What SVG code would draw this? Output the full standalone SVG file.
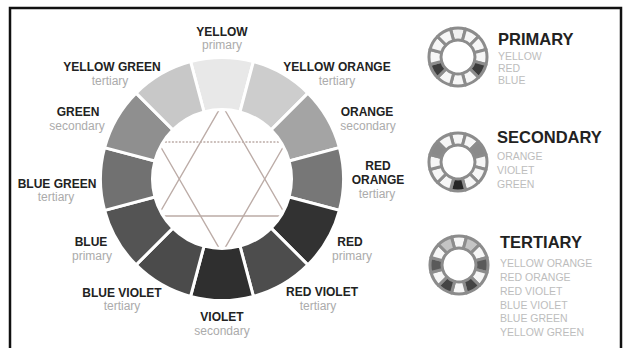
<svg xmlns="http://www.w3.org/2000/svg" xmlns:xlink="http://www.w3.org/1999/xlink" width="626" height="348" viewBox="0 0 626 348">
<style>
.seg{stroke:#ffffff;stroke-width:3}
.lbl{font-family:"Liberation Sans",Arial,sans-serif;font-weight:bold;font-size:12px;fill:#222;text-anchor:middle}
.sub{font-family:"Liberation Sans",Arial,sans-serif;font-size:12px;fill:#ababab;text-anchor:middle}
.ttl{font-family:"Liberation Sans",Arial,sans-serif;font-weight:bold;font-size:16.5px;fill:#222}
.itm{font-family:"Liberation Sans",Arial,sans-serif;font-size:10.5px;fill:#bdbdbd}
.hex{fill:none;stroke:#bcaca7;stroke-width:1.4}
.cell{stroke:#8c8c8c;stroke-width:3;stroke-linejoin:round}
</style>
<defs>
<path id="c0" d="M-7.51,-28.01 A29,29 0 0 1 7.51,-28.01 L4.4,-16.42 A17,17 0 0 0 -4.4,-16.42 Z"/>
<path id="c1" d="M7.51,-28.01 A29,29 0 0 1 20.51,-20.51 L12.02,-12.02 A17,17 0 0 0 4.4,-16.42 Z"/>
<path id="c2" d="M20.51,-20.51 A29,29 0 0 1 28.01,-7.51 L16.42,-4.4 A17,17 0 0 0 12.02,-12.02 Z"/>
<path id="c3" d="M28.01,-7.51 A29,29 0 0 1 28.01,7.51 L16.42,4.4 A17,17 0 0 0 16.42,-4.4 Z"/>
<path id="c4" d="M28.01,7.51 A29,29 0 0 1 20.51,20.51 L12.02,12.02 A17,17 0 0 0 16.42,4.4 Z"/>
<path id="c5" d="M20.51,20.51 A29,29 0 0 1 7.51,28.01 L4.4,16.42 A17,17 0 0 0 12.02,12.02 Z"/>
<path id="c6" d="M7.51,28.01 A29,29 0 0 1 -7.51,28.01 L-4.4,16.42 A17,17 0 0 0 4.4,16.42 Z"/>
<path id="c7" d="M-7.51,28.01 A29,29 0 0 1 -20.51,20.51 L-12.02,12.02 A17,17 0 0 0 -4.4,16.42 Z"/>
<path id="c8" d="M-20.51,20.51 A29,29 0 0 1 -28.01,7.51 L-16.42,4.4 A17,17 0 0 0 -12.02,12.02 Z"/>
<path id="c9" d="M-28.01,7.51 A29,29 0 0 1 -28.01,-7.51 L-16.42,-4.4 A17,17 0 0 0 -16.42,4.4 Z"/>
<path id="c10" d="M-28.01,-7.51 A29,29 0 0 1 -20.51,-20.51 L-12.02,-12.02 A17,17 0 0 0 -16.42,-4.4 Z"/>
<path id="c11" d="M-20.51,-20.51 A29,29 0 0 1 -7.51,-28.01 L-4.4,-16.42 A17,17 0 0 0 -12.02,-12.02 Z"/>
</defs>
<rect width="626" height="348" fill="#ffffff"/>
<rect x="10" y="8" width="611" height="360" fill="none" stroke="#111" stroke-width="2.5"/>

<g id="hexagram">
<polygon class="hex" points="222,105 286.1,216 157.9,216"/>
<polyline class="hex" points="157.9,142 222,253 286.1,142"/>
<line class="hex" x1="157.9" y1="142" x2="286.1" y2="142" stroke-dasharray="2 1.5"/>
</g>

<g id="wheel">
<path id="seg-yellow" class="seg" fill="#e8e8e8" d="M190.6,61.6 A121.5,121.5 0 0 1 253.4,61.6 L240,111.9 A69.5,69.5 0 0 0 204,111.9 Z"/>
<path id="seg-yellow-orange" class="seg" fill="#cdcdcd" d="M253.4,61.6 A121.5,121.5 0 0 1 307.9,93.1 L271.1,129.9 A69.5,69.5 0 0 0 240,111.9 Z"/>
<path id="seg-orange" class="seg" fill="#a4a4a4" d="M307.9,93.1 A121.5,121.5 0 0 1 339.4,147.6 L289.1,161 A69.5,69.5 0 0 0 271.1,129.9 Z"/>
<path id="seg-red-orange" class="seg" fill="#777777" d="M339.4,147.6 A121.5,121.5 0 0 1 339.4,210.4 L289.1,197 A69.5,69.5 0 0 0 289.1,161 Z"/>
<path id="seg-red" class="seg" fill="#323232" d="M339.4,210.4 A121.5,121.5 0 0 1 307.9,264.9 L271.1,228.1 A69.5,69.5 0 0 0 289.1,197 Z"/>
<path id="seg-red-violet" class="seg" fill="#4d4d4d" d="M307.9,264.9 A121.5,121.5 0 0 1 253.4,296.4 L240,246.1 A69.5,69.5 0 0 0 271.1,228.1 Z"/>
<path id="seg-violet" class="seg" fill="#2f2f2f" d="M253.4,296.4 A121.5,121.5 0 0 1 190.6,296.4 L204,246.1 A69.5,69.5 0 0 0 240,246.1 Z"/>
<path id="seg-blue-violet" class="seg" fill="#4b4b4b" d="M190.6,296.4 A121.5,121.5 0 0 1 136.1,264.9 L172.9,228.1 A69.5,69.5 0 0 0 204,246.1 Z"/>
<path id="seg-blue" class="seg" fill="#545454" d="M136.1,264.9 A121.5,121.5 0 0 1 104.6,210.4 L154.9,197 A69.5,69.5 0 0 0 172.9,228.1 Z"/>
<path id="seg-blue-green" class="seg" fill="#717171" d="M104.6,210.4 A121.5,121.5 0 0 1 104.6,147.6 L154.9,161 A69.5,69.5 0 0 0 154.9,197 Z"/>
<path id="seg-green" class="seg" fill="#8f8f8f" d="M104.6,147.6 A121.5,121.5 0 0 1 136.1,93.1 L172.9,129.9 A69.5,69.5 0 0 0 154.9,161 Z"/>
<path id="seg-yellow-green" class="seg" fill="#c8c8c8" d="M136.1,93.1 A121.5,121.5 0 0 1 190.6,61.6 L204,111.9 A69.5,69.5 0 0 0 172.9,129.9 Z"/>
</g>

<g id="labels">
<g id="lbl-yellow"><text class="lbl" x="222" y="35.5">YELLOW</text><text class="sub" x="222" y="49">primary</text></g>
<g id="lbl-yellow-orange"><text class="lbl" x="337" y="71">YELLOW ORANGE</text><text class="sub" x="337" y="84.5">tertiary</text></g>
<g id="lbl-orange"><text class="lbl" x="367" y="116">ORANGE</text><text class="sub" x="368" y="129.5">secondary</text></g>
<g id="lbl-red-orange"><text class="lbl" x="378" y="169.5">RED</text><text class="lbl" x="378" y="184">ORANGE</text><text class="sub" x="377" y="198">tertiary</text></g>
<g id="lbl-red"><text class="lbl" x="350" y="246">RED</text><text class="sub" x="352" y="259.5">primary</text></g>
<g id="lbl-red-violet"><text class="lbl" x="322" y="296">RED VIOLET</text><text class="sub" x="318" y="309.5">tertiary</text></g>
<g id="lbl-violet"><text class="lbl" x="222" y="321">VIOLET</text><text class="sub" x="222" y="334.5">secondary</text></g>
<g id="lbl-blue-violet"><text class="lbl" x="122" y="296.5">BLUE VIOLET</text><text class="sub" x="122" y="310">tertiary</text></g>
<g id="lbl-blue"><text class="lbl" x="91" y="246">BLUE</text><text class="sub" x="92" y="259.5">primary</text></g>
<g id="lbl-blue-green"><text class="lbl" x="57" y="187.5">BLUE GREEN</text><text class="sub" x="56" y="201">tertiary</text></g>
<g id="lbl-green"><text class="lbl" x="78" y="116">GREEN</text><text class="sub" x="77" y="129.5">secondary</text></g>
<g id="lbl-yellow-green"><text class="lbl" x="112" y="71">YELLOW GREEN</text><text class="sub" x="110" y="84.5">tertiary</text></g>
</g>

<g id="legend-primary">
<g class="cell" fill="#f6f6f6" transform="translate(458,57)">
<use xlink:href="#c0" fill="#f0f0f0"/><use xlink:href="#c1"/><use xlink:href="#c2"/><use xlink:href="#c3"/>
<use xlink:href="#c4" fill="#3c3c3c"/><use xlink:href="#c5"/><use xlink:href="#c6"/><use xlink:href="#c7"/>
<use xlink:href="#c8" fill="#3c3c3c"/><use xlink:href="#c9"/><use xlink:href="#c10"/><use xlink:href="#c11"/>
</g>
<text class="ttl" x="498" y="45">PRIMARY</text>
<text class="itm" x="498" y="60">YELLOW</text>
<text class="itm" x="498" y="72">RED</text>
<text class="itm" x="498" y="83.5">BLUE</text>
</g>

<g id="legend-secondary">
<g class="cell" fill="#f6f6f6" transform="translate(458,162)">
<use xlink:href="#c0"/><use xlink:href="#c1"/><use xlink:href="#c2" fill="#8a8a8a"/><use xlink:href="#c3"/>
<use xlink:href="#c4"/><use xlink:href="#c5"/><use xlink:href="#c6" fill="#262626"/><use xlink:href="#c7"/>
<use xlink:href="#c8"/><use xlink:href="#c9"/><use xlink:href="#c10" fill="#8a8a8a"/><use xlink:href="#c11"/>
</g>
<text class="ttl" x="497" y="143">SECONDARY</text>
<text class="itm" x="497" y="160">ORANGE</text>
<text class="itm" x="497" y="174">VIOLET</text>
<text class="itm" x="497" y="187.5">GREEN</text>
</g>

<g id="legend-tertiary">
<g class="cell" fill="#f6f6f6" transform="translate(459,265)">
<use xlink:href="#c0"/><use xlink:href="#c1" fill="#c4c4c4"/><use xlink:href="#c2"/><use xlink:href="#c3" fill="#5a5a5a"/>
<use xlink:href="#c4"/><use xlink:href="#c5" fill="#444444"/><use xlink:href="#c6"/><use xlink:href="#c7" fill="#444444"/>
<use xlink:href="#c8"/><use xlink:href="#c9" fill="#5a5a5a"/><use xlink:href="#c10"/><use xlink:href="#c11" fill="#c4c4c4"/>
</g>
<text class="ttl" x="500" y="248">TERTIARY</text>
<text class="itm" x="500" y="267">YELLOW ORANGE</text>
<text class="itm" x="500" y="281">RED ORANGE</text>
<text class="itm" x="500" y="294.5">RED VIOLET</text>
<text class="itm" x="500" y="308.5">BLUE VIOLET</text>
<text class="itm" x="500" y="322">BLUE GREEN</text>
<text class="itm" x="500" y="336">YELLOW GREEN</text>
</g>
</svg>
